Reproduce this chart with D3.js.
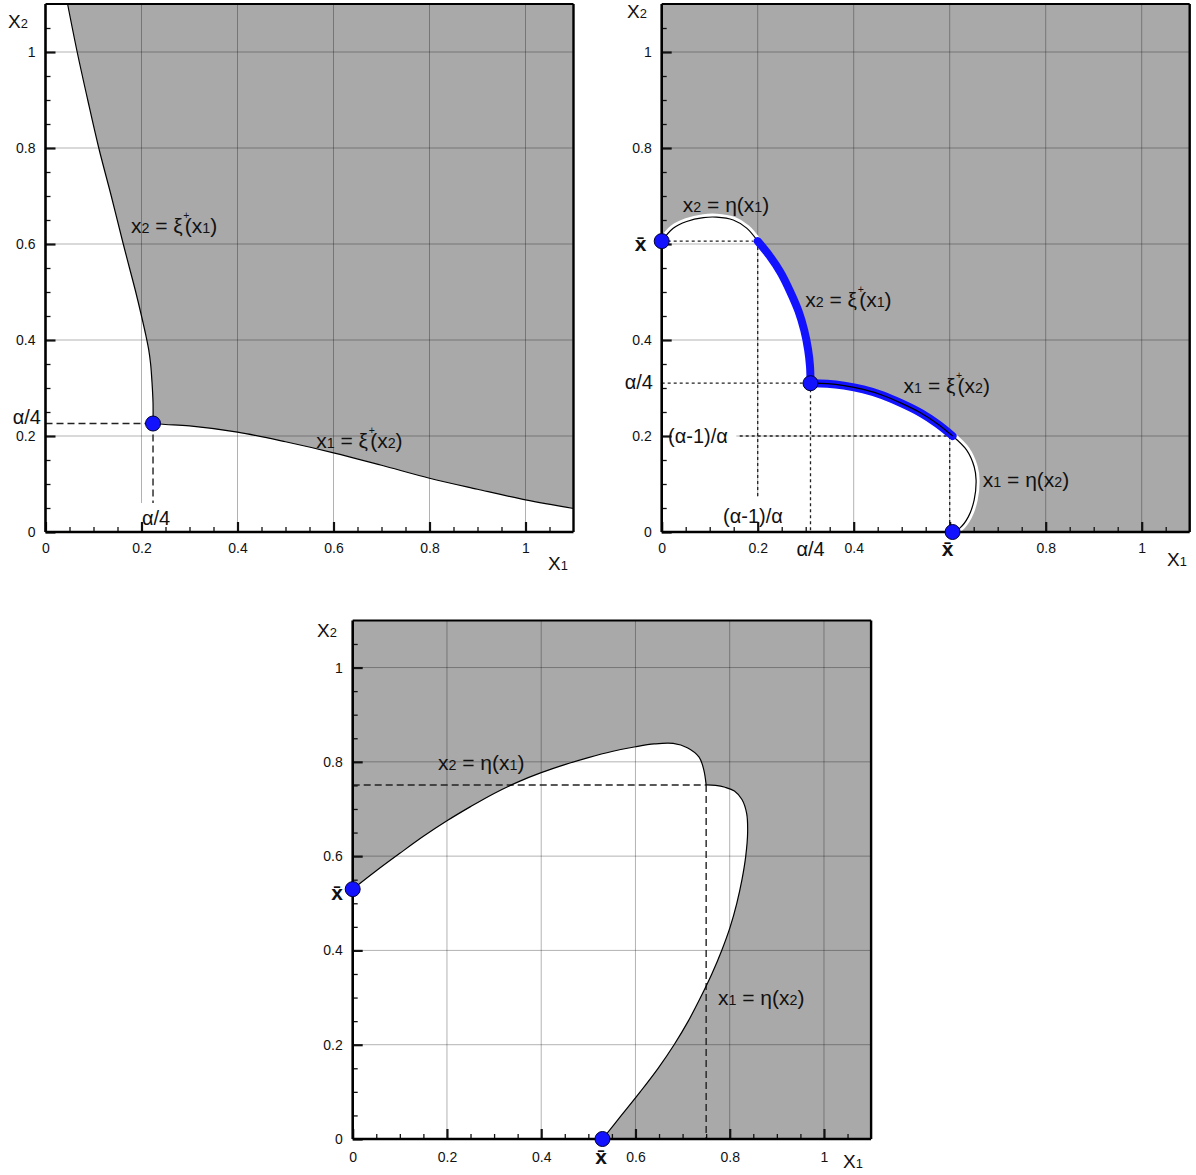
<!DOCTYPE html>
<html>
<head>
<meta charset="utf-8">
<script src="https://cdn.jsdelivr.net/npm/d3@7"></script>
<style>
body { margin: 0; background: #fff; }
</style>
</head>
<body>
<svg id="chart" width="1196" height="1175"></svg>
<script>
// ---- shared ticks ----
const majorTicks = [0, 0.2, 0.4, 0.6, 0.8, 1];
const minorTicks = [0.05, 0.1, 0.15, 0.25, 0.3, 0.35, 0.45, 0.5, 0.55, 0.65, 0.7, 0.75, 0.85, 0.9, 0.95, 1.05];
const gridVals = [0.2, 0.4, 0.6, 0.8, 1];

// ---- panel A (top left) ----
const a_xiUpper = [[0.046,1.1],[0.066,1.0],[0.088,0.9],[0.111,0.8],[0.137,0.7],[0.162,0.6],[0.175,0.55],[0.188,0.5],[0.2,0.45],[0.209,0.41],[0.215,0.38],[0.219,0.35],[0.222,0.31],[0.224,0.27],[0.224,0.226]];
const a_xiLower = [[0.224,0.226],[0.25,0.224],[0.3,0.221],[0.4,0.208],[0.5,0.188],[0.6,0.165],[0.7,0.139],[0.8,0.112],[0.9,0.089],[1.0,0.067],[1.1,0.049]];
const a_point = [0.224, 0.226];
const a_xLabels = [0, 0.2, 0.4, 0.6, 0.8, 1];
const a_yLabels = [0, 0.2, 0.4, 0.6, 0.8, 1];

// ---- panel B (top right) ----
const b_xbar = 0.606;
const b_alpha4 = 0.31;
const b_ratio = 0.2;   // (α-1)/α
const b_etaUpper = [[0,0.606],[0.024,0.633],[0.052,0.647],[0.087,0.655],[0.114,0.656],[0.149,0.65],[0.177,0.633],[0.2,0.606]];
const b_xiUpper = [[0.2,0.606],[0.225,0.575],[0.248,0.54],[0.268,0.5],[0.285,0.46],[0.297,0.42],[0.305,0.38],[0.309,0.345],[0.31,0.31]];
const b_xiLower = [[0.31,0.31],[0.345,0.309],[0.38,0.305],[0.42,0.297],[0.46,0.285],[0.5,0.268],[0.54,0.248],[0.575,0.225],[0.606,0.2]];
const b_etaLower = [[0.606,0.2],[0.635,0.171],[0.651,0.136],[0.655,0.108],[0.651,0.067],[0.639,0.032],[0.621,0.008],[0.606,0]];
const b_xLabels = [0, 0.2, 0.4, 0.8, 1];
const b_yLabels = [0, 0.2, 0.4, 0.8, 1];

// ---- panel C (bottom) ----
const c_xbar = 0.53;
const c_corner = [0.75, 0.751];
const c_etaUpper = [[0,0.53],[0.05,0.569],[0.1,0.606],[0.15,0.642],[0.2,0.675],[0.25,0.705],[0.3,0.733],[0.35,0.757],[0.4,0.777],[0.45,0.794],[0.5,0.809],[0.55,0.822],[0.6,0.832],[0.64,0.838],[0.68,0.839],[0.71,0.83],[0.735,0.81],[0.745,0.783],[0.75,0.751]];
const c_etaLower = [[0.75,0.751],[0.77,0.75],[0.79,0.746],[0.81,0.738],[0.826,0.72],[0.836,0.69],[0.838,0.65],[0.834,0.6],[0.826,0.55],[0.815,0.5],[0.801,0.45],[0.783,0.4],[0.762,0.35],[0.738,0.3],[0.712,0.25],[0.682,0.2],[0.648,0.15],[0.61,0.1],[0.57,0.05],[0.53,0]];
const c_xLabels = [0, 0.2, 0.4, 0.6, 0.8, 1];
const c_yLabels = [0, 0.2, 0.4, 0.6, 0.8, 1];

const FONT = '"Liberation Sans", Arial, Helvetica, sans-serif';
const GRAY = '#a9a9a9';
const BLUE = '#1212ff';
const LBL = 21;

const svg = d3.select('#chart');

// label pieces
const T_x2xi = [['x'],['2','sub'],[' = '],['ξ'],['+','sup'],['(x'],['1','sub'],[')']];
const T_x1xi = [['x'],['1','sub'],[' = '],['ξ'],['+','sup'],['(x'],['2','sub'],[')']];
const T_x2eta = [['x'],['2','sub'],[' = η(x'],['1','sub'],[')']];
const T_x1eta = [['x'],['1','sub'],[' = η(x'],['2','sub'],[')']];
const T_X1 = [['X'],['1','sub']];
const T_X2 = [['X'],['2','sub']];

function mathText(g, px, py, parts, size, anchor) {
    let t = g.append('text')
        .attr('x', px).attr('y', py)
        .attr('font-size', size)
        .attr('font-family', FONT)
        .attr('text-anchor', anchor || 'start')
        .attr('fill', '#111');
    let back = 0;
    parts.forEach(([s, kind]) => {
        let ts = t.append('tspan').text(s);
        if (kind === 'sub') ts.attr('font-size', size * 0.68);
        if (kind === 'sup') {
            ts.attr('font-size', size * 0.5).attr('dy', -size * 0.68).attr('dx', size * 0.03);
            back = size * 0.68;
            return;
        }
        if (back) { ts.attr('dy', back).attr('dx', -size * 0.22); back = 0; }
    });
    return t;
}

function xbarText(g, px, py, size) {
    return g.append('text')
        .attr('x', px).attr('y', py)
        .attr('font-size', size)
        .attr('font-family', FONT)
        .attr('font-weight', 'bold')
        .attr('text-anchor', 'middle')
        .attr('fill', '#111')
        .text('x\u0304');
}

// white box behind a label, hides grid / dashed lines
function boxBehind(g, t, pad) {
    let bb = t.node().getBBox();
    g.insert('rect', () => t.node())
        .attr('x', bb.x - pad[3]).attr('y', bb.y - pad[0])
        .attr('width', bb.width + pad[1] + pad[3])
        .attr('height', bb.height + pad[0] + pad[2])
        .attr('fill', '#fff');
}

function makePanel(left, right, bottom, top) {
    let x = d3.scaleLinear().domain([0, 1.1]).range([left, right]);
    let y = d3.scaleLinear().domain([0, 1.1]).range([bottom, top]);
    let g = svg.append('g');
    let line = d3.line().x(d => x(d[0])).y(d => y(d[1])).curve(d3.curveCatmullRom.alpha(0.5));
    return {x, y, g, line};
}

function drawGrid(p) {
    p.g.append('g').selectAll('line').data(gridVals).join('line')
        .attr('x1', d => p.x(d)).attr('x2', d => p.x(d))
        .attr('y1', p.y(0)).attr('y2', p.y(1.1))
        .attr('stroke', '#000').attr('stroke-opacity', 0.3).attr('stroke-width', 1);
    p.g.append('g').selectAll('line').data(gridVals).join('line')
        .attr('y1', d => p.y(d)).attr('y2', d => p.y(d))
        .attr('x1', p.x(0)).attr('x2', p.x(1.1))
        .attr('stroke', '#000').attr('stroke-opacity', 0.3).attr('stroke-width', 1);
}

function dashed(p, pts, style) {
    p.g.append('path')
        .attr('d', d3.line().x(d => p.x(d[0])).y(d => p.y(d[1]))(pts))
        .attr('fill', 'none')
        .attr('stroke', '#222')
        .attr('stroke-width', style === 'dot' ? 1.3 : 1.4)
        .attr('stroke-dasharray', style === 'dot' ? '3,3' : '7,4');
}

function drawAxes(p, xLabels, yLabels, pad) {
    const fmt = d3.format('~g');
    let xa = p.g.append('g').attr('transform', `translate(0,${p.y(0)})`)
        .call(d3.axisBottom(p.x).tickValues(majorTicks).tickSize(-10).tickPadding(pad)
            .tickFormat(d => xLabels.includes(d) ? fmt(d) : ''));
    let xm = p.g.append('g').attr('transform', `translate(0,${p.y(0)})`)
        .call(d3.axisBottom(p.x).tickValues(minorTicks).tickSize(-5).tickFormat(''));
    let ya = p.g.append('g').attr('transform', `translate(${p.x(0)},0)`)
        .call(d3.axisLeft(p.y).tickValues(majorTicks).tickSize(-10).tickPadding(10)
            .tickFormat(d => yLabels.includes(d) ? fmt(d) : ''));
    let ym = p.g.append('g').attr('transform', `translate(${p.x(0)},0)`)
        .call(d3.axisLeft(p.y).tickValues(minorTicks).tickSize(-5).tickFormat(''));
    [xa, xm, ya, ym].forEach(a => {
        a.select('.domain').remove();
        a.attr('font-family', FONT).attr('font-size', 14);
        a.selectAll('text').attr('fill', '#111');
    });
    [xa, ya].forEach(a => a.selectAll('line').attr('stroke', '#111').attr('stroke-width', 2.2));
    [xm, ym].forEach(a => a.selectAll('line').attr('stroke', '#111').attr('stroke-width', 1.3));

    // frame
    p.g.append('line').attr('x1', p.x(0)).attr('x2', p.x(1.1)).attr('y1', p.y(0)).attr('y2', p.y(0))
        .attr('stroke', '#000').attr('stroke-width', 2.6);
    p.g.append('line').attr('x1', p.x(0)).attr('x2', p.x(0)).attr('y1', p.y(0)).attr('y2', p.y(1.1))
        .attr('stroke', '#000').attr('stroke-width', 2.6);
    p.g.append('line').attr('x1', p.x(0)).attr('x2', p.x(1.1)).attr('y1', p.y(1.1)).attr('y2', p.y(1.1))
        .attr('stroke', '#000').attr('stroke-width', 2);
    p.g.append('line').attr('x1', p.x(1.1)).attr('x2', p.x(1.1)).attr('y1', p.y(0)).attr('y2', p.y(1.1))
        .attr('stroke', '#000').attr('stroke-width', 2.4);
}

function dot(p, pt) {
    p.g.append('circle')
        .attr('cx', p.x(pt[0])).attr('cy', p.y(pt[1])).attr('r', 7.5)
        .attr('fill', BLUE).attr('stroke', '#000033').attr('stroke-width', 1);
}

// ================= panel A =================
let A = makePanel(45.5, 573.5, 532, 4);
A.g.append('rect').attr('x', A.x(0)).attr('y', A.y(1.1))
    .attr('width', A.x(1.1) - A.x(0)).attr('height', A.y(0) - A.y(1.1)).attr('fill', '#fff');
A.g.append('path')
    .attr('d', A.line(a_xiUpper) + A.line(a_xiLower).replace(/^M/, 'L') +
        `L${A.x(1.1)},${A.y(1.1)}Z`)
    .attr('fill', GRAY);
drawGrid(A);
dashed(A, [[0, a_point[1]], a_point], 'dash');
dashed(A, [a_point, [a_point[0], 0]], 'dash');
A.g.append('path').attr('d', A.line(a_xiUpper)).attr('fill', 'none').attr('stroke', '#000').attr('stroke-width', 1.2);
A.g.append('path').attr('d', A.line(a_xiLower)).attr('fill', 'none').attr('stroke', '#000').attr('stroke-width', 1.2);
let aLab = A.g.append('text').attr('x', A.x(a_point[0]) + 3).attr('y', 525)
    .attr('font-size', 20).attr('font-family', FONT).attr('text-anchor', 'middle').attr('fill', '#111').text('α/4');
boxBehind(A.g, aLab, [4, 2, 4, 2]);
drawAxes(A, a_xLabels, a_yLabels, 11);
A.g.append('text').attr('x', 41).attr('y', A.y(a_point[1]))
    .attr('font-size', 20).attr('font-family', FONT).attr('text-anchor', 'end').attr('fill', '#111').text('α/4');
mathText(A.g, A.x(0.178), A.y(0.623), T_x2xi, LBL);
mathText(A.g, A.x(0.564), A.y(0.175), T_x1xi, LBL);
mathText(A.g, 8, 28, T_X2, 19);
mathText(A.g, 548, 570, T_X1, 19);
dot(A, a_point);

// ================= panel B =================
let B = makePanel(661.7, 1189.7, 532, 4);
B.g.append('rect').attr('x', B.x(0)).attr('y', B.y(1.1))
    .attr('width', B.x(1.1) - B.x(0)).attr('height', B.y(0) - B.y(1.1)).attr('fill', GRAY);
B.g.append('path')
    .attr('d', `M${B.x(0)},${B.y(0)}` + B.line(b_etaUpper).replace(/^M/, 'L') +
        B.line(b_xiUpper).replace(/^M/, 'L') + B.line(b_xiLower).replace(/^M/, 'L') +
        B.line(b_etaLower).replace(/^M/, 'L') + 'Z')
    .attr('fill', '#fff');
drawGrid(B);
dashed(B, [[0, b_xbar], [b_ratio, b_xbar]], 'dot');
dashed(B, [[b_ratio, b_xbar], [b_ratio, 0]], 'dot');
dashed(B, [[0, b_alpha4], [b_alpha4, b_alpha4]], 'dot');
dashed(B, [[b_alpha4, b_alpha4], [b_alpha4, 0]], 'dot');
dashed(B, [[0, b_ratio], [b_xiLower[b_xiLower.length - 1][0], b_ratio]], 'dot');
dashed(B, [[0.6, b_ratio], [0.6, 0]], 'dot');
[b_etaUpper, b_etaLower].forEach(c => {
    B.g.append('path').attr('d', B.line(c)).attr('fill', 'none').attr('stroke', '#fff').attr('stroke-width', 7);
    B.g.append('path').attr('d', B.line(c)).attr('fill', 'none').attr('stroke', '#000').attr('stroke-width', 1.2);
});
B.g.append('path').attr('d', B.line(b_xiUpper)).attr('fill', 'none').attr('stroke', BLUE)
    .attr('stroke-width', 8).attr('stroke-linecap', 'round');
B.g.append('path').attr('d', B.line(b_xiLower)).attr('fill', 'none').attr('stroke', BLUE)
    .attr('stroke-width', 8).attr('stroke-linecap', 'round');
B.g.append('path').attr('d', B.line(b_xiLower)).attr('fill', 'none').attr('stroke', '#000').attr('stroke-width', 1.2);
let bLab1 = B.g.append('text').attr('x', 668).attr('y', 443)
    .attr('font-size', 20).attr('font-family', FONT).attr('fill', '#111').text('(α-1)/α');
boxBehind(B.g, bLab1, [2, 9, 2, 6]);
let bLab2 = B.g.append('text').attr('x', 753).attr('y', 523)
    .attr('font-size', 20).attr('font-family', FONT).attr('text-anchor', 'middle').attr('fill', '#111').text('(α-1)/α');
boxBehind(B.g, bLab2, [8, 2, 4, 2]);
drawAxes(B, b_xLabels, b_yLabels, 11);
B.g.append('text').attr('x', 653).attr('y', B.y(b_alpha4) + 6)
    .attr('font-size', 20).attr('font-family', FONT).attr('text-anchor', 'end').attr('fill', '#111').text('α/4');
B.g.append('text').attr('x', B.x(b_alpha4)).attr('y', 556)
    .attr('font-size', 20).attr('font-family', FONT).attr('text-anchor', 'middle').attr('fill', '#111').text('α/4');
xbarText(B.g, 640.5, B.y(b_xbar) + 10, 21);
xbarText(B.g, B.x(0.6) - 2, 556, 21);
mathText(B.g, B.x(0.044), B.y(0.667), T_x2eta, LBL);
mathText(B.g, B.x(0.299), B.y(0.469), T_x2xi, LBL);
mathText(B.g, B.x(0.504), B.y(0.29), T_x1xi, LBL);
mathText(B.g, B.x(0.669), B.y(0.094), T_x1eta, LBL);
mathText(B.g, 627, 18, T_X2, 19);
mathText(B.g, 1167, 566, T_X1, 19);
dot(B, [0, b_xbar]);
dot(B, [b_alpha4, b_alpha4]);
dot(B, [b_xbar, 0]);

// ================= panel C =================
let C = makePanel(352.7, 871.1, 1139, 620.4);
C.g.append('rect').attr('x', C.x(0)).attr('y', C.y(1.1))
    .attr('width', C.x(1.1) - C.x(0)).attr('height', C.y(0) - C.y(1.1)).attr('fill', GRAY);
C.g.append('path')
    .attr('d', `M${C.x(0)},${C.y(0)}` + C.line(c_etaUpper).replace(/^M/, 'L') +
        C.line(c_etaLower).replace(/^M/, 'L') + 'Z')
    .attr('fill', '#fff');
drawGrid(C);
dashed(C, [[0, c_corner[1]], c_corner], 'dash');
dashed(C, [c_corner, [c_corner[0], 0]], 'dash');
C.g.append('path').attr('d', C.line(c_etaUpper)).attr('fill', 'none').attr('stroke', '#000').attr('stroke-width', 1.2);
C.g.append('path').attr('d', C.line(c_etaLower)).attr('fill', 'none').attr('stroke', '#000').attr('stroke-width', 1.2);
drawAxes(C, c_xLabels, c_yLabels, 13);
xbarText(C.g, 337, 900, 21);
xbarText(C.g, 601, 1164, 21);
mathText(C.g, C.x(0.181), C.y(0.783), T_x2eta, LBL);
mathText(C.g, C.x(0.775), C.y(0.285), T_x1eta, LBL);
mathText(C.g, 317, 637, T_X2, 19);
mathText(C.g, 843, 1168, T_X1, 19);
dot(C, [0, c_xbar]);
dot(C, [c_xbar, 0]);
</script>
</body>
</html>
